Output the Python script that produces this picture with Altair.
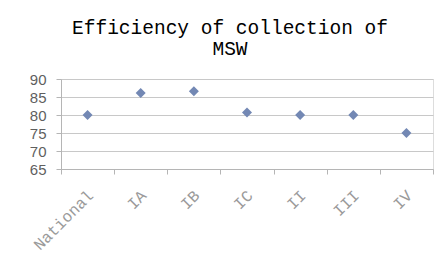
import altair as alt
import pandas as pd

categories = ["National", "IA", "IB", "IC", "II", "III", "IV"]
values = [80, 86.1, 86.6, 80.7, 80, 80, 75]

df = pd.DataFrame({"cat": categories, "val": values})

chart = alt.Chart(df).mark_point(
    shape="diamond", filled=True, size=100, color="#7388b4", opacity=1
).encode(
    x=alt.X("cat:N", sort=categories, title=None,
            scale=alt.Scale(paddingInner=0, paddingOuter=0),
            axis=alt.Axis(labelAngle=-45, labelFont="Liberation Mono", labelFontSize=16,
                          labelColor="#9a9a9a", domainColor="#b5b5b5", tickColor="#b5b5b5",
                          tickBand="extent", tickSize=5, grid=False, labelPadding=13,
                          labelOffset=-3)),
    y=alt.Y("val:Q", title=None,
            scale=alt.Scale(domain=[65, 90], nice=False, zero=False),
            axis=alt.Axis(values=[65, 70, 75, 80, 85, 90], labelFont="Liberation Sans",
                          labelFontSize=15, labelColor="#5f5f5f", domainColor="#b5b5b5",
                          tickColor="#b5b5b5", tickSize=5, labelPadding=10,
                          gridColor="#c8c8c8", grid=True)),
).properties(
    width=372, height=90,
    title=alt.TitleParams(["Efficiency of collection of", "MSW"], font="Liberation Mono",
                          fontSize=19.5, fontWeight="normal", color="#000000", anchor="middle",
                          frame="group", dx=-17, lineHeight=21, offset=13),
    autosize=alt.AutoSizeParams(type="none"),
    padding={"left": 53, "top": 71, "right": 6, "bottom": 92},
).configure_view(stroke=None).configure(background="white")

chart.save("out.html", embed_options={"renderer": "svg", "actions": False})
